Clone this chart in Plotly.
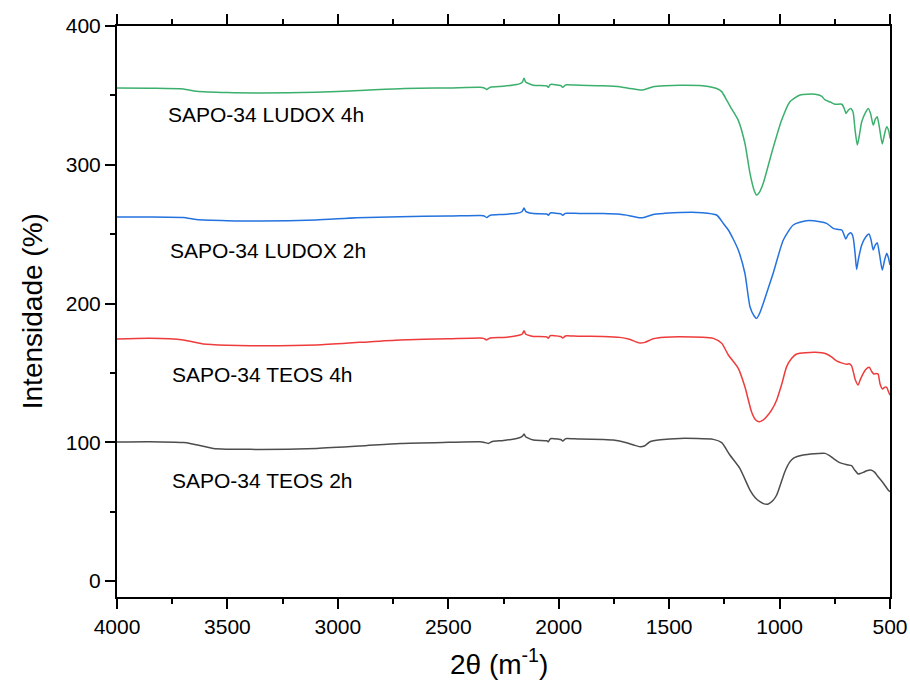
import plotly.graph_objects as go

# ---- data (wavenumber, intensity) ----
wn_ludox4 = [4000, 3850, 3700, 3640, 3500, 3350, 3100, 2900, 2700, 2500, 2357, 2340, 2326, 2310, 2250,
             2190, 2175, 2165, 2157, 2150, 2145, 2115, 2054, 2047, 2040, 2032, 2002, 1990, 1982, 1970,
             1964, 1904, 1800, 1723, 1680, 1632, 1610, 1572, 1520, 1451, 1350, 1285, 1262, 1240, 1220,
             1187, 1157, 1134, 1115, 1104, 1090, 1074, 1036, 991, 953, 907, 839, 810, 794, 770, 749,
             718, 705, 699, 688, 678, 670, 666, 658, 648, 640, 628, 610, 598, 588, 576, 566, 558, 548,
             535, 525, 515, 505, 500]
int_ludox4 = [355.3, 355.1, 354.6, 353.0, 352.0, 351.7, 352.2, 353.5, 355.0, 355.4, 355.8, 355.5, 354.3,
              355.9, 356.6, 357.8, 358.5, 359.5, 362.3, 359.6, 359.2, 357.3, 356.8, 355.8, 357.6, 358.0,
              357.3, 357.0, 355.8, 357.4, 357.6, 357.3, 357.0, 356.3, 355.0, 353.9, 354.3, 356.3, 357.0,
              357.3, 357.0, 355.0, 352.7, 346.7, 341.0, 332.0, 315.5, 293.8, 281.5, 278.2, 280.5, 286.6,
              308.3, 332.0, 345.4, 350.3, 350.8, 349.5, 346.7, 345.2, 343.6, 343.6, 339.5, 337.0, 339.5,
              340.6, 339.0, 337.0, 325.0, 314.2, 320.0, 331.0, 338.0, 340.6, 337.0, 328.6, 333.0, 334.6,
              327.0, 315.0, 322.0, 327.4, 324.0, 319.0]

wn_ludox2 = [4000, 3850, 3700, 3640, 3500, 3350, 3100, 2915, 2718, 2500, 2357, 2340, 2326, 2310, 2250,
             2190, 2175, 2165, 2157, 2150, 2145, 2115, 2054, 2047, 2040, 2032, 2002, 1990, 1982, 1970,
             1964, 1904, 1800, 1723, 1680, 1632, 1610, 1572, 1520, 1451, 1350, 1285, 1255, 1232, 1210,
             1187, 1157, 1134, 1115, 1104, 1090, 1074, 1029, 983, 938, 877, 817, 787, 757, 740, 718,
             708, 700, 690, 678, 672, 666, 658, 651, 643, 628, 610, 595, 586, 576, 567, 558, 547, 535,
             525, 515, 507, 500]
int_ludox2 = [262.3, 262.4, 262.0, 260.5, 259.7, 259.4, 260.2, 261.8, 262.6, 263.0, 263.5, 263.3, 262.0,
              263.6, 264.2, 265.0, 265.5, 266.5, 268.8, 266.5, 266.0, 264.8, 264.5, 263.6, 265.0, 265.4,
              264.9, 264.6, 263.6, 265.0, 265.1, 264.9, 264.8, 264.3, 263.3, 261.8, 262.2, 264.2, 265.0,
              265.6, 265.5, 263.8, 257.8, 253.0, 246.5, 238.6, 221.8, 197.7, 191.0, 189.3, 193.0, 200.1,
              221.8, 245.8, 256.6, 259.7, 259.0, 257.8, 254.2, 253.5, 253.0, 249.5, 246.5, 249.5, 251.0,
              250.0, 247.0, 236.0, 224.6, 232.0, 242.2, 248.0, 250.1, 246.0, 238.6, 242.0, 243.8, 235.0,
              224.1, 231.0, 236.2, 233.0, 227.7]

wn_teos4 = [4000, 3851, 3700, 3609, 3500, 3398, 3096, 2900, 2718, 2500, 2357, 2340, 2326, 2310, 2250,
            2190, 2175, 2165, 2157, 2150, 2145, 2115, 2054, 2047, 2040, 2032, 2002, 1990, 1982, 1970,
            1964, 1904, 1800, 1723, 1680, 1632, 1610, 1572, 1520, 1451, 1300, 1262, 1232, 1187, 1157,
            1127, 1110, 1093, 1075, 1059, 1035, 1013, 990, 968, 945, 923, 839, 787, 765, 742, 720, 696,
            685, 674, 665, 658, 644, 635, 621, 610, 594, 583, 573, 563, 554, 545, 534, 525, 515, 508, 500]
int_teos4 = [174.4, 174.9, 173.7, 170.8, 169.9, 169.6, 170.1, 172.0, 173.7, 174.6, 175.2, 174.9, 173.8,
             175.2, 175.6, 176.8, 177.3, 178.0, 180.4, 178.0, 177.6, 176.3, 175.9, 175.0, 176.6, 176.9,
             176.5, 176.2, 175.1, 176.6, 176.8, 176.4, 176.3, 175.6, 174.2, 171.5, 172.0, 174.6, 175.7,
             176.1, 174.9, 171.3, 162.9, 153.3, 140.0, 122.0, 116.5, 114.8, 116.0, 118.4, 123.5, 130.5,
             142.0, 154.5, 160.5, 163.6, 164.8, 163.6, 161.5, 158.6, 157.2, 156.2, 156.6, 155.0, 150.0,
             145.5, 141.3, 145.0, 149.7, 152.5, 154.0, 151.0, 149.2, 149.5, 149.2, 142.0, 138.4, 139.6,
             139.6, 137.0, 134.0]

wn_teos2 = [4000, 3851, 3700, 3669, 3564, 3398, 3096, 2900, 2718, 2500, 2357, 2340, 2319, 2300, 2250,
            2190, 2175, 2165, 2157, 2150, 2145, 2115, 2054, 2047, 2040, 2032, 2002, 1990, 1982, 1970,
            1964, 1904, 1800, 1753, 1693, 1660, 1632, 1610, 1587, 1540, 1451, 1300, 1262, 1225, 1180,
            1134, 1110, 1089, 1070, 1051, 1030, 1013, 995, 976, 955, 938, 893, 794, 775, 757, 738, 718,
            695, 674, 660, 644, 633, 621, 605, 588, 570, 554, 530, 510, 500]
int_teos2 = [100.2, 100.4, 99.8, 99.2, 95.6, 94.9, 95.6, 97.3, 99.2, 100.0, 100.4, 100.1, 99.2, 100.6,
             101.3, 102.8, 103.5, 104.3, 105.9, 104.0, 103.5, 101.6, 101.1, 100.4, 102.2, 102.8, 102.3,
             102.0, 100.9, 102.5, 102.8, 102.3, 102.0, 101.6, 99.7, 98.0, 96.8, 97.5, 100.4, 101.8,
             102.8, 102.1, 99.7, 90.8, 81.2, 65.6, 60.0, 57.2, 55.6, 55.5, 58.0, 62.0, 70.0, 78.8, 85.5,
             88.4, 90.8, 92.0, 90.5, 88.4, 86.3, 84.8, 83.8, 83.1, 80.0, 77.1, 77.6, 78.3, 79.5, 80.0,
             78.5, 75.2, 70.5, 66.0, 64.4]

labels = ["SAPO-34 LUDOX 4h", "SAPO-34 LUDOX 2h", "SAPO-34 TEOS 4h", "SAPO-34 TEOS 2h"]
label_x = [3778, 3769, 3760, 3760]
label_y = [336, 238, 148.5, 72.8]

x_ticks = [4000, 3500, 3000, 2500, 2000, 1500, 1000, 500]
y_ticks = [0, 100, 200, 300, 400]

series = [
    (wn_ludox4, int_ludox4, "#3BAF6C"),
    (wn_ludox2, int_ludox2, "#2372DE"),
    (wn_teos4, int_teos4, "#EE3B3B"),
    (wn_teos2, int_teos2, "#4D4D4D"),
]

FONT = "Liberation Sans, Arial"

fig = go.Figure()
for (xs, ys, col), name in zip(series, labels):
    fig.add_trace(go.Scatter(x=xs, y=ys, mode="lines", name=name,
                             line=dict(color=col, width=1.5, shape="spline", smoothing=0.6),
                             showlegend=False))

for t, lx, ly in zip(labels, label_x, label_y):
    fig.add_annotation(x=lx, y=ly, xref="x", yref="y", text=t, showarrow=False,
                       xanchor="left", yanchor="middle",
                       font=dict(family=FONT, size=21, color="black"))

fig.add_annotation(x=0.494, y=-0.114, xref="paper", yref="paper", text="2θ (m<sup>-1</sup>)",
                   showarrow=False, xanchor="center", yanchor="middle",
                   font=dict(family=FONT, size=28, color="black"))
fig.add_annotation(x=-0.109, y=0.5, xref="paper", yref="paper", text="Intensidade (%)",
                   showarrow=False, textangle=-90, xanchor="center", yanchor="middle",
                   font=dict(family=FONT, size=28, color="black"))

axis_common = dict(showgrid=False, zeroline=False, showline=True, linecolor="black", linewidth=2,
                   ticks="outside", ticklen=10, tickwidth=2, tickcolor="black", automargin=False,
                   tickfont=dict(family=FONT, size=21, color="black"))

fig.update_xaxes(range=[4000, 500], tickvals=x_ticks, mirror="allticks",
                 minor=dict(dtick=250, ticks="outside", ticklen=5, tickwidth=2, tickcolor="black"),
                 **axis_common)
fig.update_yaxes(range=[-11.5, 400], tickvals=y_ticks, mirror=True,
                 minor=dict(dtick=50, ticks="outside", ticklen=5, tickwidth=2, tickcolor="black"),
                 **axis_common)

fig.update_layout(width=910, height=682, margin=dict(l=117, r=20, t=26, b=85, autoexpand=False),
                  paper_bgcolor="white", plot_bgcolor="white")

fig.write_html("out.html")
